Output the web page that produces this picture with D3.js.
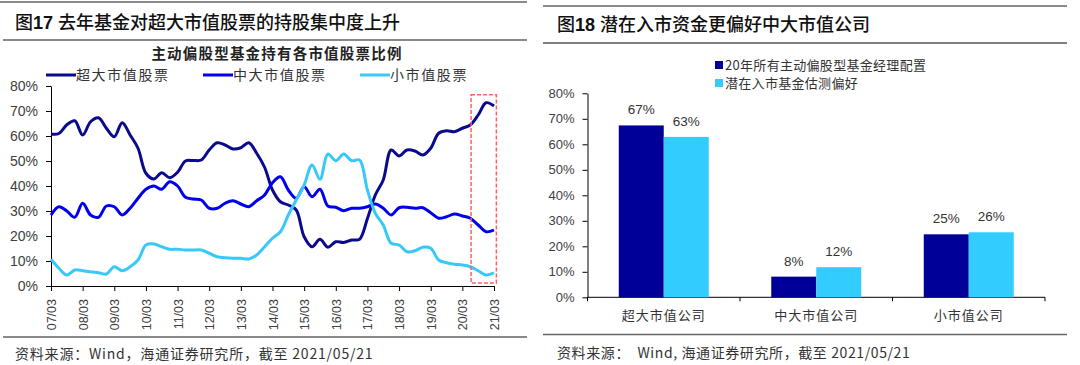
<!DOCTYPE html>
<html>
<head>
<meta charset="utf-8">
<script src="https://cdn.jsdelivr.net/npm/d3@7"></script>
<style>
    body { margin: 0; background: #fff; }
    text { font-family: "Liberation Sans", Arial, sans-serif; }
    .cjk { font-family: "Noto Sans CJK SC", sans-serif; }
</style>
</head>
<body>
<script>
const svg_width = 1080;
const svg_height = 365;

// ---- left chart: quarterly share held by active equity funds (%) ----
const x_tick_labels = ['07/03', '08/03', '09/03', '10/03', '11/03', '12/03', '13/03', '14/03',
    '15/03', '16/03', '17/03', '18/03', '19/03', '20/03', '21/03'];
const super_large = [60.8, 61, 64.5, 66.1, 60.4, 65.7, 67.3, 63.1, 59.7, 65.3, 60.4, 55.1, 45.1, 42.8,
    45.3, 43.3, 45.5, 50, 50.2, 50.4, 54.4, 57.3, 56.4, 54.8, 55.3, 57.3, 53.1, 47.5, 38.4, 33.7, 32.4,
    30.4, 19.7, 15.7, 18.7, 15.5, 17.7, 17.4, 18.4, 18.7, 27, 36.4, 42.4, 54.4, 52, 54.4, 54, 52.4, 55.1,
    61.1, 62.1, 61.7, 63.1, 64.4, 68.4, 73.3, 72];
const mid_large = [28.4, 31.7, 30, 27.5, 33.1, 28.4, 27.5, 32, 31.7, 28.4, 31.1, 35.1, 38.7, 40, 38.7,
    41.7, 40, 35.5, 34.8, 34.4, 31.1, 31.1, 33.1, 34.1, 32.8, 31.7, 34.1, 36.4, 41.3, 43.7, 38.4, 35.1,
    39.7, 35.7, 38.7, 32, 31.5, 30.1, 31.1, 31.1, 31.7, 32.8, 31.1, 28.4, 31.3, 31.5, 31.1, 31.3, 29.3,
    27.1, 27.7, 28.8, 28, 27.1, 24.4, 21.7, 22.4];
const small = [10.7, 7.1, 4.4, 6.4, 6.1, 5.7, 5.3, 4.8, 7.7, 6.1, 7.7, 10.4, 16.4, 16.8, 15.7, 14.7,
    14.7, 14.4, 14.4, 14.4, 13.1, 11.7, 11.3, 11.1, 11.1, 10.8, 12.4, 15.7, 19.1, 21.7, 28.4, 34.4, 40.4,
    48.4, 42.7, 52.8, 50.1, 52.8, 50.1, 50.4, 38.4, 29.1, 24.4, 17.1, 16.4, 13.7, 14.1, 15.5, 15.1, 10.4,
    9.3, 8.7, 8.4, 7.7, 6.1, 4.4, 5.3];
const line_series = [
    {name: '超大市值股票', values: super_large, color: '#0a0a8c'},
    {name: '中大市值股票', values: mid_large, color: '#0000ee'},
    {name: '小市值股票', values: small, color: '#38c8fa'}
];
// highlighted window (quarter index, share)
const highlight = {from: 53.1, to: 56.3, top: 0.765, bottom: 0.012};

// ---- right chart ----
const bar_categories = ['超大市值公司', '中大市值公司', '小市值公司'];
const bar_series = [
    {name: '20年所有主动偏股型基金经理配置', values: [0.674, 0.081, 0.247], color: '#000099'},
    {name: '潜在入市基金估测偏好', values: [0.629, 0.118, 0.255], color: '#33ccff'}
];

const svg = d3.select('body')
    .append('svg')
    .attr('width', svg_width)
    .attr('height', svg_height);

svg.append('rect')
    .attr('width', svg_width)
    .attr('height', svg_height)
    .attr('fill', 'white');

// frame rules
function rule(x0, x1, y, color, w) {
    svg.append('line')
        .attr('x1', x0).attr('x2', x1)
        .attr('y1', y).attr('y2', y)
        .attr('stroke', color)
        .attr('stroke-width', w);
}
rule(0, 527, 2, '#8a8a8a', 2);
rule(3, 527, 40, '#8a8a8a', 2);
rule(3, 527, 337, '#8a8a8a', 2);
rule(543, 1067, 6, '#666', 1.5);
rule(543, 1067, 43, '#555', 1.5);
rule(543, 1067, 334.5, '#666', 1.5);

function title(x, y, num, rest) {
    const t = svg.append('text')
        .attr('class', 'cjk')
        .attr('x', x)
        .attr('y', y)
        .attr('font-size', 18)
        .attr('font-weight', 500)
        .attr('fill', '#111');
    t.append('tspan').text('图');
    t.append('tspan').attr('font-family', 'Liberation Sans').attr('font-weight', 'bold').text(num + ' ');
    t.append('tspan').text(rest);
}
title(15, 29, '17', '去年基金对超大市值股票的持股集中度上升');
title(557, 31, '18', '潜在入市资金更偏好中大市值公司');

svg.append('text')
    .attr('class', 'cjk')
    .attr('x', 15)
    .attr('y', 359)
    .attr('font-size', 14)
    .attr('fill', '#333')
    .attr('letter-spacing', 0.8)
    .text('资料来源：Wind，海通证券研究所，截至 2021/05/21');
svg.append('text')
    .attr('class', 'cjk')
    .attr('x', 557)
    .attr('y', 358)
    .attr('font-size', 14)
    .attr('fill', '#333')
    .attr('letter-spacing', 0.6)
    .attr('xml:space', 'preserve')
    .text('资料来源：  Wind, 海通证券研究所，截至 2021/05/21');

// ================= left: line chart =================
const x1 = d3.scaleLinear().domain([0, super_large.length - 1]).range([51, 494]);
const y1 = d3.scaleLinear().domain([0, 0.8]).range([286, 86]);

svg.append('text')
    .attr('class', 'cjk')
    .attr('x', 277)
    .attr('y', 59)
    .attr('text-anchor', 'middle')
    .attr('font-size', 14.5)
    .attr('font-weight', 'bold')
    .attr('letter-spacing', 1.2)
    .attr('fill', '#222')
    .text('主动偏股型基金持有各市值股票比例');

const legend_g = svg.append('g').attr('transform', 'translate(0, 75)');
const legend_x = [46, 203, 360];
legend_g.selectAll('g')
    .data(line_series)
    .enter()
    .append('g')
    .attr('transform', (d, i) => `translate(${legend_x[i]}, 0)`)
    .each(function (d) {
        const g = d3.select(this);
        g.append('line')
            .attr('x1', 0).attr('x2', 30)
            .attr('stroke', d.color)
            .attr('stroke-width', 3);
        g.append('text')
            .attr('class', 'cjk')
            .attr('x', 30)
            .attr('dy', '0.36em')
            .attr('font-size', 14)
            .attr('letter-spacing', 1.6)
            .attr('fill', '#333')
            .text(d.name);
    });

const y1_axis = svg.append('g')
    .attr('transform', `translate(${x1.range()[0]}, 0)`)
    .call(d3.axisLeft(y1)
        .tickValues(d3.range(0, 0.81, 0.1))
        .tickFormat(d3.format('.0%'))
        .tickSize(5)
        .tickSizeOuter(0)
        .tickPadding(8));
y1_axis.selectAll('text').attr('font-size', 14).attr('fill', '#404040');

const x1_axis = svg.append('g')
    .attr('transform', `translate(0, ${y1.range()[0]})`)
    .call(d3.axisBottom(x1)
        .tickValues(d3.range(0, super_large.length, 4))
        .tickFormat((d, i) => x_tick_labels[i])
        .tickSize(5)
        .tickSizeOuter(0));
x1_axis.selectAll('text')
    .attr('font-size', 12.5)
    .attr('fill', '#404040')
    .attr('transform', 'rotate(-90)')
    .attr('text-anchor', 'end')
    .attr('x', -13)
    .attr('y', 0)
    .attr('dy', '0.36em');
svg.selectAll('.domain, .tick line').attr('stroke', '#000');

const line = d3.line()
    .x((d, i) => x1(i))
    .y(d => y1(d / 100))
    .curve(d3.curveCatmullRom.alpha(0.5));

svg.append('g')
    .selectAll('path')
    .data(line_series)
    .enter()
    .append('path')
    .attr('fill', 'none')
    .attr('stroke', d => d.color)
    .attr('stroke-width', 3)
    .attr('stroke-linejoin', 'round')
    .attr('d', d => line(d.values));

svg.append('rect')
    .attr('x', x1(highlight.from))
    .attr('y', y1(highlight.top))
    .attr('width', x1(highlight.to) - x1(highlight.from))
    .attr('height', y1(highlight.bottom) - y1(highlight.top))
    .attr('fill', 'none')
    .attr('stroke', '#ff6060')
    .attr('stroke-width', 1.5)
    .attr('stroke-dasharray', '4,2');

// ================= right: bar chart =================
const x2 = d3.scaleBand().domain(bar_categories).range([587.5, 1045]).paddingInner(0.41).paddingOuter(0.205);
const x2_inner = d3.scaleBand().domain(bar_series.map(d => d.name)).range([0, x2.bandwidth()]);
const y2 = d3.scaleLinear().domain([0, 0.8]).range([297.3, 93.3]);

const y2_axis = svg.append('g')
    .attr('transform', `translate(${x2.range()[0]}, 0)`)
    .call(d3.axisLeft(y2)
        .tickValues(d3.range(0, 0.81, 0.1))
        .tickFormat(d3.format('.0%'))
        .tickSize(5)
        .tickSizeOuter(0)
        .tickPadding(8));
y2_axis.selectAll('text').attr('font-size', 13).attr('fill', '#404040');
y2_axis.selectAll('.domain, line').attr('stroke', '#000');

// category axis with ticks on band boundaries
const x2_axis = svg.append('g').attr('transform', `translate(0, ${y2.range()[0]})`);
x2_axis.append('line')
    .attr('x1', x2.range()[0]).attr('x2', x2.range()[1])
    .attr('stroke', '#000');
x2_axis.selectAll('.bound')
    .data(d3.range(bar_categories.length + 1))
    .enter()
    .append('line')
    .attr('x1', i => x2.range()[0] + i * x2.step())
    .attr('x2', i => x2.range()[0] + i * x2.step())
    .attr('y2', 4)
    .attr('stroke', '#000');
x2_axis.selectAll('text')
    .data(bar_categories)
    .enter()
    .append('text')
    .attr('class', 'cjk')
    .attr('x', d => x2(d) + x2.bandwidth() / 2)
    .attr('y', 23)
    .attr('text-anchor', 'middle')
    .attr('font-size', 13)
    .attr('letter-spacing', 1)
    .attr('fill', '#333')
    .text(d => d);

const bars_g = svg.append('g');
bar_series.forEach(s => {
    const g = bars_g.append('g');
    g.selectAll('rect')
        .data(s.values)
        .enter()
        .append('rect')
        .attr('x', (d, i) => x2(bar_categories[i]) + x2_inner(s.name))
        .attr('y', d => y2(d))
        .attr('width', x2_inner.bandwidth())
        .attr('height', d => y2(0) - y2(d))
        .attr('fill', s.color);
    g.selectAll('text')
        .data(s.values)
        .enter()
        .append('text')
        .attr('x', (d, i) => x2(bar_categories[i]) + x2_inner(s.name) + x2_inner.bandwidth() / 2)
        .attr('y', d => y2(d) - 11)
        .attr('text-anchor', 'middle')
        .attr('font-size', 13.5)
        .attr('fill', '#333')
        .text(d => d3.format('.0%')(d));
});

const legend2 = svg.append('g').attr('transform', 'translate(715, 65)');
legend2.selectAll('g')
    .data(bar_series)
    .enter()
    .append('g')
    .attr('transform', (d, i) => `translate(0, ${i * 18})`)
    .each(function (d) {
        const g = d3.select(this);
        g.append('rect')
            .attr('x', 0).attr('y', -4)
            .attr('width', 8).attr('height', 8)
            .attr('fill', d.color);
        g.append('text')
            .attr('class', 'cjk')
            .attr('x', 10)
            .attr('dy', '0.36em')
            .attr('font-size', 13)
            .attr('letter-spacing', 0.3)
            .attr('fill', '#333')
            .text(d.name);
    });
</script>
</body>
</html>
